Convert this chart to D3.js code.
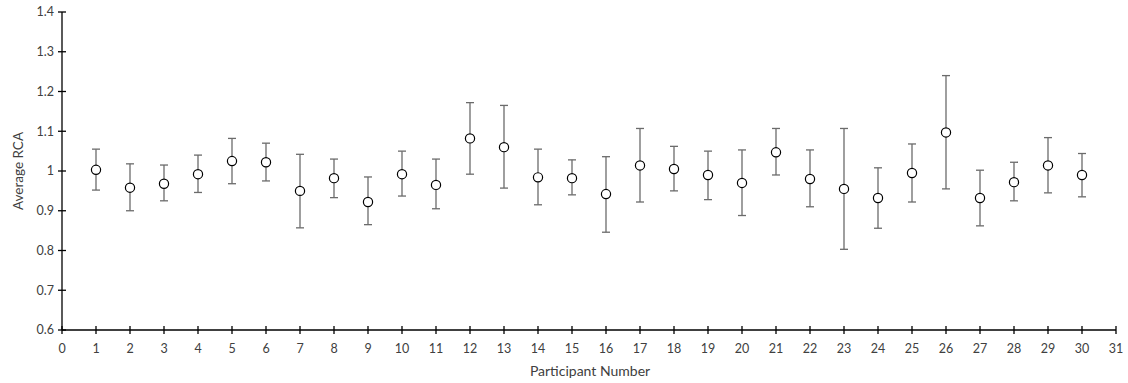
<!DOCTYPE html>
<html><head><meta charset="utf-8">
<script src="https://cdn.jsdelivr.net/npm/d3@7"></script>
<style>
body{margin:0;background:#fff;}
text{font-family:Lato,"Open Sans",sans-serif;fill:#404040;}
</style></head><body>
<svg id="c" width="1128" height="383"></svg>
<script>
const participants = [1,2,3,4,5,6,7,8,9,10,11,12,13,14,15,16,17,18,19,20,21,22,23,24,25,26,27,28,29,30];
const meanRCA = [1.003,0.958,0.968,0.992,1.025,1.022,0.950,0.982,0.922,0.992,0.965,1.082,1.060,0.984,0.982,0.942,1.014,1.005,0.990,0.970,1.047,0.980,0.955,0.932,0.995,1.097,0.932,0.972,1.014,0.990];
const upperRCA = [1.055,1.018,1.015,1.040,1.082,1.070,1.042,1.030,0.985,1.050,1.030,1.172,1.165,1.055,1.028,1.036,1.107,1.062,1.050,1.053,1.107,1.053,1.107,1.008,1.068,1.240,1.002,1.022,1.084,1.044];
const lowerRCA = [0.952,0.900,0.925,0.946,0.968,0.975,0.857,0.933,0.865,0.937,0.905,0.992,0.957,0.915,0.940,0.846,0.922,0.950,0.928,0.888,0.990,0.910,0.803,0.856,0.922,0.955,0.862,0.925,0.945,0.935];
const xTicks = d3.range(0,32);
const yTicks = [0.6,0.7,0.8,0.9,1,1.1,1.2,1.3,1.4];

const svg = d3.select("#c");
const x = d3.scaleLinear().domain([0,31]).range([62,1116]);
const y = d3.scaleLinear().domain([0.6,1.4]).range([330,12]);

// Error bars
const g = svg.append("g");
participants.forEach((p,i)=>{
  const cx = x(p);
  g.append("line").attr("x1",cx).attr("x2",cx).attr("y1",y(upperRCA[i])).attr("y2",y(lowerRCA[i]))
    .attr("stroke","#6b6b6b").attr("stroke-width",1.3);
  [upperRCA[i],lowerRCA[i]].forEach(v=>{
    g.append("line").attr("x1",cx-4).attr("x2",cx+4).attr("y1",y(v)).attr("y2",y(v))
      .attr("stroke","#6b6b6b").attr("stroke-width",1.3);
  });
});
g.selectAll("circle").data(participants).join("circle")
  .attr("cx",d=>x(d)).attr("cy",(d,i)=>y(meanRCA[i])).attr("r",4.6)
  .attr("fill","#fff").attr("stroke","#000").attr("stroke-width",1.2);

// Y axis
const ya = svg.append("g");
ya.append("line").attr("x1",62).attr("x2",62).attr("y1",y(1.4)).attr("y2",y(0.6)).attr("stroke","#000").attr("stroke-width",1.3);
ya.selectAll("line.t").data(yTicks).join("line").attr("class","t")
  .attr("x1",58).attr("x2",66).attr("y1",d=>y(d)).attr("y2",d=>y(d)).attr("stroke","#000").attr("stroke-width",1.3);
ya.selectAll("text").data(yTicks).join("text")
  .attr("x",54).attr("y",d=>y(d)).attr("dy","0.35em").attr("text-anchor","end")
  .attr("font-size",12.5).text(d=>d3.format("~g")(d));

// X axis
const xa = svg.append("g");
xa.append("line").attr("x1",x(0)).attr("x2",x(31)).attr("y1",330).attr("y2",330).attr("stroke","#000").attr("stroke-width",1.3);
xa.selectAll("line.t").data(xTicks).join("line").attr("class","t")
  .attr("x1",d=>x(d)).attr("x2",d=>x(d)).attr("y1",326).attr("y2",334).attr("stroke","#000").attr("stroke-width",1.3);
xa.selectAll("text").data(xTicks).join("text")
  .attr("x",d=>x(d)).attr("y",349).attr("dy","0.35em").attr("text-anchor","middle")
  .attr("font-size",12.5).text(d=>d);

svg.append("text").attr("x",590).attr("y",371).attr("dy","0.35em").attr("text-anchor","middle")
  .attr("font-size",14).text("Participant Number");
svg.append("text").attr("transform","translate(18,171) rotate(-90)").attr("dy","0.35em").attr("text-anchor","middle")
  .attr("font-size",13.5).text("Average RCA");
</script></body></html>
